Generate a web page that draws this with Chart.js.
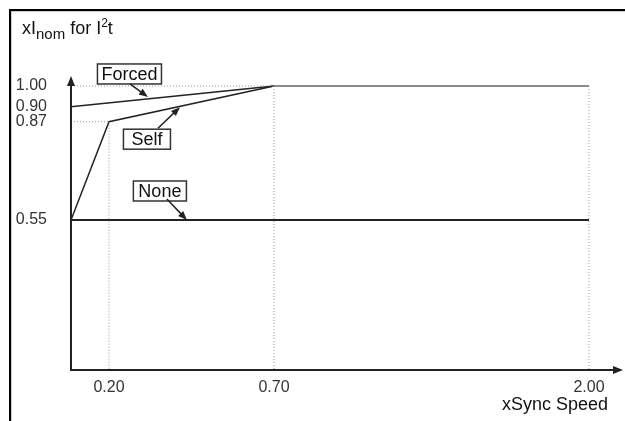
<!DOCTYPE html>
<html><head><meta charset="utf-8">
<script src="https://cdn.jsdelivr.net/npm/chart.js@4"></script>
<style>html,body{margin:0;padding:0;background:#fff}#wrap{position:relative;width:625px;height:421px}</style>
</head><body><div id="wrap"><canvas id="c" width="625" height="421"></canvas></div>
<script>
// ---- data ----
const xTicks = [0.20, 0.70, 2.00];
const yTicks = [0.55, 0.87, 0.90, 1.00];
const forcedX = [0, 0.70];        const forcedY = [0.90, 1.00];
const selfX   = [0, 0.20, 0.70];  const selfY   = [0.55, 0.87, 1.00];
const ratedX  = [0.70, 2.00];     const ratedY  = [1.00, 1.00];
const noneX   = [0, 2.00];        const noneY   = [0.55, 0.55];
const seriesNames = ['Forced', 'Self', 'None'];
// arrow targets (data coordinates) for the series labels
const labelTipX = [0.318, 0.415, 0.436];
const labelTipY = [0.947, 0.899, 0.55];
// drop guides (dotted)
const guideH = [[0, 0.70, 1.00], [0, 0.20, 0.87]];          // [x1, x2, y]
const guideV = [[0.20, 0.87, 0], [0.70, 1.00, 0], [2.00, 1.00, 0]]; // [x, y1, y2]

// ---- schematic (not-to-scale) axis layout ----
const AXIS_LAYOUT = {
  x: {v: [0, 0.20, 0.70, 2.00], p: [0, 0.0708, 0.378, 0.9646]},
  y: {v: [0, 0.55, 0.87, 0.90, 1.00], p: [0, 0.5102, 0.8446, 0.8956, 0.966]}
};
class PiecewiseScale extends Chart.LinearScale {
  static id = 'piecewise';
  _map(v) {
    const m = AXIS_LAYOUT[this.id], V = m.v, P = m.p;
    let i = 1; while (i < V.length - 1 && v > V[i]) i++;
    return P[i-1] + (v - V[i-1]) * (P[i] - P[i-1]) / (V[i] - V[i-1]);
  }
  _unmap(f) {
    const m = AXIS_LAYOUT[this.id], V = m.v, P = m.p;
    let i = 1; while (i < P.length - 1 && f > P[i]) i++;
    return V[i-1] + (f - P[i-1]) * (V[i] - V[i-1]) / (P[i] - P[i-1]);
  }
  getPixelForValue(v) {
    const f = this._map(v);
    return this.isHorizontal() ? this.left + f * this.width : this.bottom - f * this.height;
  }
  getValueForPixel(px) {
    const f = this.isHorizontal() ? (px - this.left) / this.width : (this.bottom - px) / this.height;
    return this._unmap(f);
  }
}
Chart.register(PiecewiseScale);

const pts = (xs, ys) => xs.map((x, i) => ({x, y: ys[i]}));
const FONT = '"Liberation Sans", Arial, Helvetica, sans-serif';
const dark = '#222';
const guideStyle = {borderColor: '#9a9a9a', borderWidth: 1, borderDash: [1, 2], pointRadius: 0, fill: false};

const datasets = [];
guideH.forEach(g => datasets.push(Object.assign({label: 'guide', data: [{x: g[0], y: g[2]}, {x: g[1], y: g[2]}]}, guideStyle)));
guideV.forEach(g => datasets.push(Object.assign({label: 'guide', data: [{x: g[0], y: g[1]}, {x: g[0], y: g[2]}]}, guideStyle)));
datasets.push({label: 'Forced/Self', data: pts(ratedX, ratedY), borderColor: '#8c8c8c', borderWidth: 2.2, pointRadius: 0});
datasets.push({label: seriesNames[0], data: pts(forcedX, forcedY), borderColor: dark, borderWidth: 1.5, pointRadius: 0});
datasets.push({label: seriesNames[1], data: pts(selfX, selfY), borderColor: dark, borderWidth: 1.5, pointRadius: 0});
datasets.push({label: seriesNames[2], data: pts(noneX, noneY), borderColor: dark, borderWidth: 2, pointRadius: 0});

// label box styling: [box offset dx, dy from tip, arrow tail offset from box centre, horizontal padding]
const labelStyle = [
  {dx: -18.5, dy: -23, tx: 0.5, ty: 10, pad: 4},
  {dx: -33, dy: 32, tx: 11, ty: -11, pad: 8},
  {dx: -27, dy: -29, tx: 7, ty: 8, pad: 5}
];

function arrowHead(ctx, x0, y0, x1, y1, len, half) {
  const a = Math.atan2(y1 - y0, x1 - x0);
  ctx.beginPath();
  ctx.moveTo(x1, y1);
  ctx.lineTo(x1 - len * Math.cos(a) + half * Math.sin(a), y1 - len * Math.sin(a) - half * Math.cos(a));
  ctx.lineTo(x1 - len * Math.cos(a) - half * Math.sin(a), y1 - len * Math.sin(a) + half * Math.cos(a));
  ctx.closePath();
  ctx.fill();
}

const decor = {
  id: 'decor',
  beforeDraw(chart) {
    const ctx = chart.ctx;
    ctx.save();
    ctx.fillStyle = '#000';
    ctx.fillRect(9, 9, chart.width - 9, 2.2);
    ctx.fillRect(9, 9, 2.2, chart.height - 9);
    // title with sub/superscripts
    ctx.fillStyle = '#111';
    ctx.textBaseline = 'alphabetic';
    ctx.textAlign = 'left';
    let cx = 22; const base = 33.5;
    const parts = [['xI', 18, 0], ['nom', 15, 5], [' for I', 18, 0], ['2', 12, -7], ['t', 18, 0]];
    parts.forEach(p => {
      ctx.font = p[1] + 'px ' + FONT;
      ctx.fillText(p[0], cx, base + p[2]);
      cx += ctx.measureText(p[0]).width;
    });
    ctx.restore();
  },
  afterDatasetsDraw(chart) {
    const {ctx, chartArea: a, scales: {x, y}} = chart;
    ctx.save();
    ctx.strokeStyle = dark; ctx.fillStyle = dark; ctx.lineWidth = 2;
    // y axis with arrow
    ctx.beginPath(); ctx.moveTo(a.left, a.bottom + 1); ctx.lineTo(a.left, a.top + 6); ctx.stroke();
    arrowHead(ctx, a.left, a.bottom, a.left, a.top, 10, 4);
    // x axis with arrow
    const xEnd = a.right + 15;
    ctx.beginPath(); ctx.moveTo(a.left - 1, a.bottom); ctx.lineTo(xEnd - 6, a.bottom); ctx.stroke();
    arrowHead(ctx, a.left, a.bottom, xEnd, a.bottom, 10, 4);
    // series labels with arrows
    ctx.font = '18px ' + FONT;
    ctx.textAlign = 'center'; ctx.textBaseline = 'middle';
    seriesNames.forEach((name, i) => {
      const s = labelStyle[i];
      const tipX = x.getPixelForValue(labelTipX[i]), tipY = y.getPixelForValue(labelTipY[i]);
      const bx = tipX + s.dx, by = tipY + s.dy;
      const w = ctx.measureText(name).width + 2 * s.pad, h = 20;
      ctx.fillStyle = '#fff';
      ctx.fillRect(bx - w / 2, by - h / 2, w, h);
      ctx.lineWidth = 1.5; ctx.strokeStyle = '#333';
      ctx.strokeRect(bx - w / 2, by - h / 2, w, h);
      ctx.fillStyle = '#111';
      ctx.fillText(name, bx, by + 1);
      const t0x = bx + s.tx, t0y = by + s.ty;
      ctx.strokeStyle = dark; ctx.fillStyle = dark; ctx.lineWidth = 1.5;
      ctx.beginPath(); ctx.moveTo(t0x, t0y);
      const ang = Math.atan2(tipY - t0y, tipX - t0x);
      ctx.lineTo(tipX - 5 * Math.cos(ang), tipY - 5 * Math.sin(ang)); ctx.stroke();
      arrowHead(ctx, t0x, t0y, tipX, tipY, 9, 3.5);
    });
    ctx.restore();
  }
};

new Chart(document.getElementById('c'), {
  type: 'line',
  data: {datasets},
  options: {
    responsive: false,
    animation: false,
    devicePixelRatio: 1,
    layout: {padding: {left: 0, top: 76, right: 17, bottom: 0}},
    plugins: {legend: {display: false}, title: {display: false}, tooltip: {enabled: false}},
    elements: {line: {tension: 0, fill: false}},
    scales: {
      x: {
        type: 'piecewise', min: 0, max: 2.1,
        afterBuildTicks: s => { s.ticks = xTicks.map(v => ({value: v})); },
        afterFit: s => { s.height = 51; },
        grid: {display: false, drawTicks: false},
        border: {display: false},
        ticks: {autoSkip: false, maxRotation: 0, padding: 8, color: '#333',
                font: {family: FONT, size: 16}, callback: v => Number(v).toFixed(2)},
        title: {display: true, text: 'xSync Speed', align: 'end', color: '#111',
                font: {family: FONT, size: 18}, padding: {top: 0, bottom: 5}}
      },
      y: {
        type: 'piecewise', min: 0, max: 1.04,
        afterBuildTicks: s => { s.ticks = yTicks.map(v => ({value: v})); },
        afterFit: s => { s.width = 71; },
        grid: {display: false, drawTicks: false},
        border: {display: false},
        ticks: {autoSkip: false, padding: 24, color: '#333',
                font: {family: FONT, size: 16}, callback: v => Number(v).toFixed(2)}
      }
    }
  },
  plugins: [decor]
});
</script></body></html>
